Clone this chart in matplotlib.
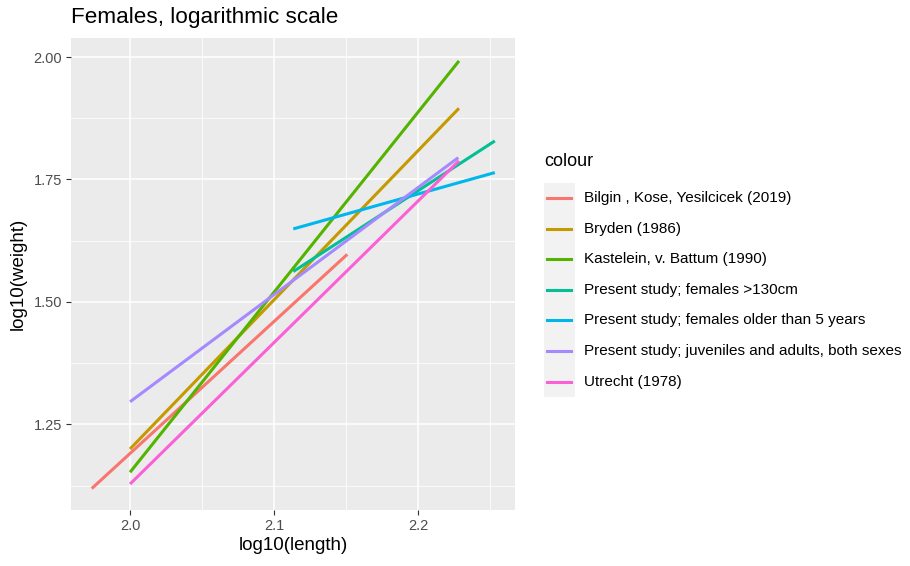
import matplotlib
matplotlib.use("Agg")
import matplotlib.pyplot as plt
from matplotlib.lines import Line2D
from matplotlib.patches import Rectangle
from matplotlib.ticker import FixedLocator

plt.rcParams['font.family'] = ['Liberation Sans', 'DejaVu Sans']

series = [
    "Bilgin , Kose, Yesilcicek (2019)",
    "Bryden (1986)",
    "Kastelein, v. Battum (1990)",
    "Present study; females >130cm",
    "Present study; females older than 5 years",
    "Present study; juveniles and adults, both sexes",
    "Utrecht (1978)",
]
colors = ["#F8766D", "#C49A00", "#53B400", "#00C094", "#00B6EB", "#A58AFF", "#FB61D7"]

# endpoints of each fitted line: log10(length), log10(weight)
x_bilgin = [1.9734, 2.1509]
y_bilgin = [1.1188, 1.5970]
x_bryden = [2.0000, 2.2285]
y_bryden = [1.1996, 1.8953]
x_kastelein = [2.0000, 2.2285]
y_kastelein = [1.1520, 1.9920]
x_fem130 = [2.1134, 2.2534]
y_fem130 = [1.5619, 1.8286]
x_fem5y = [2.1134, 2.2534]
y_fem5y = [1.6490, 1.7640]
x_juv = [2.0000, 2.2280]
y_juv = [1.2960, 1.7945]
x_utrecht = [2.0000, 2.2285]
y_utrecht = [1.1280, 1.7880]

xs = [x_bilgin, x_bryden, x_kastelein, x_fem130, x_fem5y, x_juv, x_utrecht]
ys = [y_bilgin, y_bryden, y_kastelein, y_fem130, y_fem5y, y_juv, y_utrecht]

x_ticks = [2.0, 2.1, 2.2]
x_tick_labels = ["2.0", "2.1", "2.2"]
y_ticks = [1.25, 1.50, 1.75, 2.00]
y_tick_labels = ["1.25", "1.50", "1.75", "2.00"]

W, H = 910, 566
fig = plt.figure(figsize=(W / 100, H / 100), dpi=100)
L, R, T, B = 71, 515, 38, 510
ax = fig.add_axes([L / W, 1 - B / H, (R - L) / W, (B - T) / H])
ax.set_facecolor("#EBEBEB")
for s in ax.spines.values():
    s.set_visible(False)

for x, y, c in zip(xs, ys, colors):
    ax.plot(x, y, color=c, lw=2.2, solid_capstyle="butt", zorder=3)

ax.set_xlim(1.959, 2.2674)
ax.set_ylim(1.075, 2.0388)
ax.xaxis.set_major_locator(FixedLocator(x_ticks))
ax.set_xticklabels(x_tick_labels)
ax.yaxis.set_major_locator(FixedLocator(y_ticks))
ax.set_yticklabels(y_tick_labels)
ax.xaxis.set_minor_locator(FixedLocator([1.95, 2.05, 2.15, 2.25]))
ax.yaxis.set_minor_locator(FixedLocator([1.125, 1.375, 1.625, 1.875]))
ax.grid(which="major", color="white", lw=1.1, zorder=1)
ax.grid(which="minor", color="white", lw=0.55, zorder=1)
ax.set_axisbelow(True)
ax.tick_params(which="major", length=3.5, width=0.8, color="#333333",
               labelcolor="#4D4D4D", labelsize=10.5, pad=3)
ax.tick_params(which="minor", length=0)

ax.set_xlabel("log10(length)", fontsize=13.5, color="black", labelpad=3)
ax.set_ylabel("log10(weight)", fontsize=13.5, color="black", labelpad=5)
fig.text(L / W, 1 - 17 / H, "Females, logarithmic scale", fontsize=16.2,
         ha="left", va="center", color="black")

# legend (ggplot style)
fig.text(544 / W, 1 - 161 / H, "colour", fontsize=13, ha="left", va="center")
y0 = 198
dy = 30.6
for i, (lab, c) in enumerate(zip(series, colors)):
    yc = y0 + i * dy
    fig.patches.append(Rectangle((544 / W, 1 - (yc + dy / 2) / H), 31 / W, dy / H,
                                 transform=fig.transFigure, facecolor="#F2F2F2",
                                 edgecolor="none"))
    fig.lines.append(Line2D([547 / W, 571 / W], [1 - yc / H, 1 - yc / H],
                            transform=fig.transFigure, color=c, lw=2.2))
    fig.text(584 / W, 1 - yc / H, lab, fontsize=11.0, ha="left", va="center")

fig.savefig("out.png", dpi=100, facecolor="white")
